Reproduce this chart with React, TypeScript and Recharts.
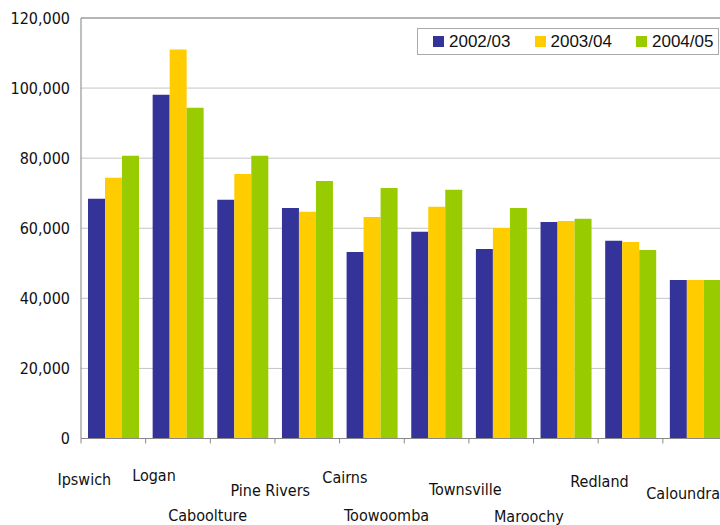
import React from 'react';
import { BarChart, Bar, XAxis, YAxis, CartesianGrid, ReferenceLine } from 'recharts';

const categories = [
  'Ipswich', 'Logan', 'Caboolture', 'Pine Rivers', 'Cairns',
  'Toowoomba', 'Townsville', 'Maroochy', 'Redland', 'Caloundra',
];
const seriesNames = ['2002/03', '2003/04', '2004/05'];
const values0203 = [68400, 98100, 68100, 65800, 53200, 59000, 54100, 61800, 56400, 45200];
const values0304 = [74400, 111000, 75500, 64700, 63200, 66100, 60100, 62100, 56100, 45200];
const values0405 = [80700, 94400, 80700, 73500, 71500, 71000, 65800, 62700, 53800, 45200];
const yTicks = [0, 20000, 40000, 60000, 80000, 100000, 120000];

const COLORS = ['#333399', '#ffcc00', '#99cc00'];

const data = categories.map((name, i) => ({
  name,
  s0: values0203[i],
  s1: values0304[i],
  s2: values0405[i],
}));

// layout constants (pixels)
const CHART_W = 740;
const CHART_H = 525;
const PLOT_LEFT = 81;
const PLOT_W = 646.5;
const PLOT_TOP = 18;
const PLOT_BOTTOM = 438.5;
const BAND = PLOT_W / categories.length;

// Excel-style staggered labels: offsets from tick centre / axis line
const LABEL_DX = [-29, -24, -35, -37, -27, -50, -36, -37, -31, -12];
const LABEL_DY = [46.5, 42.5, 82.5, 57.5, 44.5, 82.5, 56.5, 83.5, 48.5, 60.5];

const FONT = '"DejaVu Sans Condensed", "DejaVu Sans", sans-serif';

const XTick = (props: any) => {
  const { x, index, payload } = props;
  const i = index ?? payload?.index ?? 0;
  const left = x - BAND / 2;
  return (
    <g>
      <line x1={left} x2={left} y1={PLOT_BOTTOM} y2={PLOT_BOTTOM + 5} stroke="#888" />
      {i === categories.length - 1 && (
        <line x1={x + BAND / 2} x2={x + BAND / 2} y1={PLOT_BOTTOM} y2={PLOT_BOTTOM + 5} stroke="#888" />
      )}
      <text
        x={x + LABEL_DX[i]}
        y={PLOT_BOTTOM + LABEL_DY[i]}
        textAnchor="middle"
        fill="#111"
        fontSize={16}
        fontFamily={FONT}
      >
        {payload.value}
      </text>
    </g>
  );
};

const LegendBox = () => (
  <div
    style={{
      position: 'absolute',
      left: 417,
      top: 28,
      width: 300,
      height: 25,
      border: '1px solid #aaa',
      background: '#fff',
      fontFamily: '"Liberation Sans", Arial, sans-serif',
      fontSize: 17,
      color: '#111',
    }}
  >
    {seriesNames.map((name, i) => (
      <div
        key={name}
        style={{
          position: 'absolute',
          left: 15 + i * 101.5,
          top: 0,
          height: 25,
          display: 'flex',
          alignItems: 'center',
        }}
      >
        <span style={{ width: 11, height: 11, background: COLORS[i], display: 'inline-block', marginRight: 5 }} />
        <span style={{ lineHeight: '25px' }}>{name}</span>
      </div>
    ))}
  </div>
);

export default function App() {
  return (
    <div style={{ position: 'absolute', left: 0, top: 0, width: 720, height: 525, overflow: 'hidden', background: '#fff' }}>
      <BarChart
        width={CHART_W}
        height={CHART_H}
        data={data}
        margin={{ top: PLOT_TOP, right: CHART_W - PLOT_LEFT - PLOT_W, left: 11, bottom: 0 }}
        barSize={17}
        barGap={0}
      >
        <CartesianGrid vertical={false} stroke="#c4c4c4" />
        <ReferenceLine y={120000} stroke="#888" />
        <XAxis
          dataKey="name"
          interval={0}
          tickLine={false}
          axisLine={{ stroke: '#888' }}
          height={CHART_H - PLOT_BOTTOM}
          tick={<XTick />}
        />
        <YAxis
          width={70}
          domain={[0, 120000]}
          ticks={yTicks}
          tickLine={false}
          tickSize={0}
          tickMargin={11}
          axisLine={{ stroke: '#808080' }}
          tickFormatter={(v: number) => v.toLocaleString('en-US')}
          tick={{ fill: '#111', fontSize: 16, fontFamily: FONT }}
        />
        <Bar dataKey="s0" name={seriesNames[0]} fill={COLORS[0]} isAnimationActive={false} />
        <Bar dataKey="s1" name={seriesNames[1]} fill={COLORS[1]} isAnimationActive={false} />
        <Bar dataKey="s2" name={seriesNames[2]} fill={COLORS[2]} isAnimationActive={false} />
      </BarChart>
      <LegendBox />
    </div>
  );
}
